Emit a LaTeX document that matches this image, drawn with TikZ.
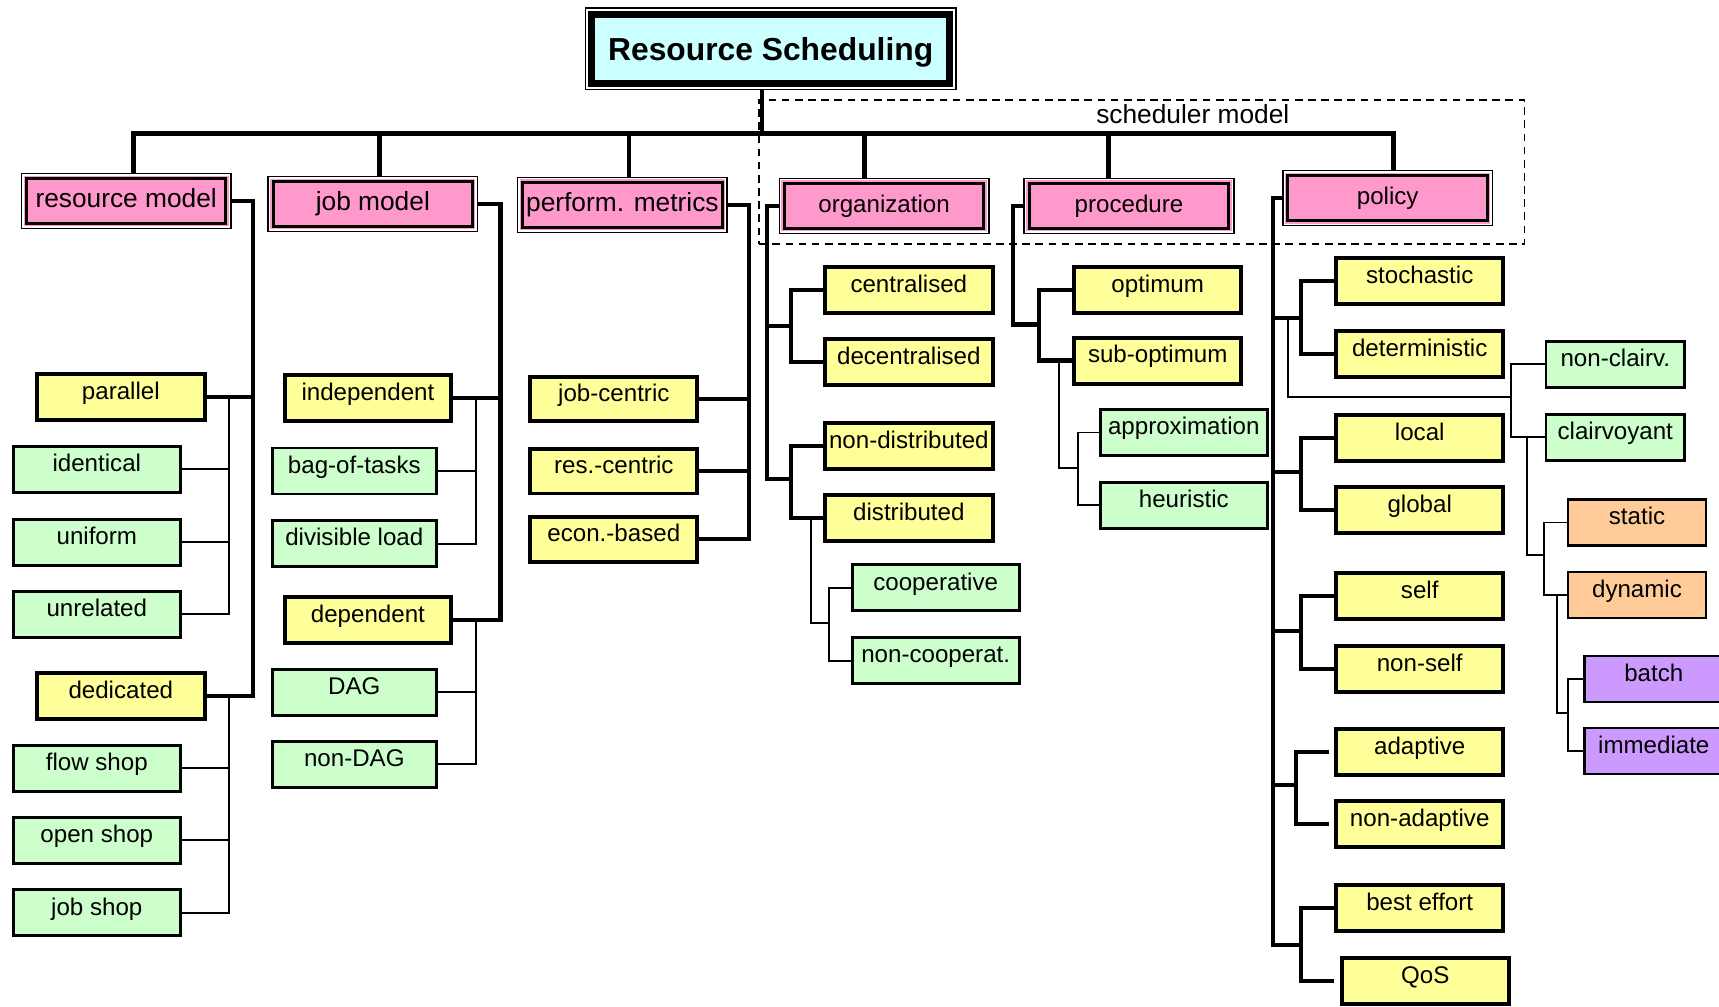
\documentclass[tikz,border=0pt]{standalone}
\usepackage{fontspec}
\setmainfont{Liberation Sans}
\newcommand\fsz[1]{\fontsize{#1pt}{#1pt}\selectfont}
\definecolor{boxpink}{HTML}{FF99CC}
\definecolor{boxyellow}{HTML}{FFFF99}
\definecolor{boxgreen}{HTML}{CCFFCC}
\definecolor{boxorange}{HTML}{FFCC99}
\definecolor{boxpurple}{HTML}{CC99FF}
\definecolor{boxcyan}{HTML}{CCFFFF}
\tikzset{
  box/.style={rectangle, draw=black, inner sep=0pt, minimum width=152.4pt, minimum height=42pt,
    text=black, font=\fsz{22}, text height=12pt, text depth=7.6pt},
  ybox/.style={box, fill=boxyellow, line width=3.6pt, outer sep=1.8pt},
  gbox/.style={box, fill=boxgreen, line width=2.6pt, outer sep=1.3pt},
  obox/.style={box, fill=boxorange, line width=2pt, outer sep=1pt, minimum width=126.4pt},
  vbox/.style={box, fill=boxpurple, line width=2pt, outer sep=1pt, minimum width=126.4pt},
  hbox/.style={rectangle, draw=black, fill=boxpink, inner sep=0pt, line width=2.7pt,
    minimum width=182pt, minimum height=41pt, outer sep=5.25pt,
    text height=14pt, text depth=2.6pt, font=\fsz{22},
    preaction={draw=black, line width=10.5pt},
    preaction={draw=white, line width=7.9pt},
    preaction={draw=boxpink, line width=5.2pt}},
  rootbox/.style={rectangle, draw=black, fill=boxcyan, inner sep=0pt, line width=6.4pt,
    minimum width=326.4pt, minimum height=63.1pt, outer sep=6.3pt,
    font=\fsz{29}\bfseries, text height=20.8pt, text depth=0pt,
    preaction={draw=black, line width=12.6pt},
    preaction={draw=white, line width=10.6pt}},
  busline/.style={line width=4.6pt},
  drop/.style={line width=4pt},
  stem/.style={line width=3.5pt},
  thickb/.style={line width=3.8pt},
  thinb/.style={line width=1.8pt},
}
\begin{document}
\begin{tikzpicture}[x=1pt,y=-1pt]
\clip (0,0) rectangle (1568,918);
\fill[white] (0,0) rectangle (1568,918);

% scheduler model frame
\node[draw=black, dashed, dash pattern=on 7pt off 5pt, line width=1.5pt, inner sep=0pt,
  minimum width=698pt, minimum height=131.6pt] (schedframe) at (1041.5,157) {};
\node[anchor=base, font=\fsz{24}, inner sep=0pt] (schedlabel) at (1088,113) {scheduler model};

% root and first level
\node[rootbox] (root) at (703,44.65) {Resource Scheduling};
\node[hbox, font=\fsz{24}] (rm) at (115.1,183.2) {resource model};
\node[hbox, font=\fsz{24}] (jm) at (340.1,186.2) {job model};
\node[hbox, font=\fsz{24}] (pm) at (567.7,186.8) {perform. metrics};
\node[hbox] (org) at (806.4,187.7) {organization};
\node[hbox] (proc) at (1029.8,187.7) {procedure};
\node[hbox] (pol) at (1265.8,180.8) {policy};

% resource model
\node[ybox, minimum width=153pt] (par) at (110.2,361.8) {parallel};
\node[gbox] (ide) at (88.3,428.2) {identical};
\node[gbox] (uni) at (88.3,494.5) {uniform};
\node[gbox] (unr) at (88.3,560.4) {unrelated};
\node[ybox, minimum width=153pt] (ded) at (110.2,634.5) {dedicated};
\node[gbox] (flo) at (88.3,700.7) {flow shop};
\node[gbox] (ope) at (88.3,766.5) {open shop};
\node[gbox] (jsh) at (88.3,832.6) {job shop};

% job model
\node[ybox, minimum width=152pt] (ind) at (335.6,363.3) {independent};
\node[gbox, minimum width=149.4pt] (bag) at (323.2,429.6) {bag-of-tasks};
\node[gbox, minimum width=149.4pt] (div) at (323.2,495.8) {divisible load};
\node[ybox, minimum width=152pt] (dep) at (335.6,565.5) {dependent};
\node[gbox, minimum width=149.4pt] (dag) at (323.2,631.6) {DAG};
\node[gbox, minimum width=149.4pt] (ndag) at (323.2,697.3) {non-DAG};

% performance metrics
\node[ybox, minimum height=40.5pt] (jc) at (559.9,364) {job-centric};
\node[ybox, minimum height=40.5pt] (rc) at (559.9,429.9) {res.-centric};
\node[ybox, minimum height=40.5pt] (eco) at (559.9,492) {econ.-based};

% organization
\node[ybox, minimum width=152.8pt] (cen) at (829,264.5) {centralised};
\node[ybox, minimum width=152.8pt] (dec) at (829,330.5) {decentralised};
\node[ybox, minimum width=152.8pt] (ndi) at (829,406.7) {non-distributed};
\node[ybox, minimum width=152.8pt] (dis) at (829,472.8) {distributed};
\node[gbox] (coo) at (853.5,536.2) {cooperative};
\node[gbox] (nco) at (853.5,602.5) {non-cooperat.};

% procedure
\node[ybox] (opt) at (1056,264.5) {optimum};
\node[ybox] (sub) at (1056,328.9) {sub-optimum};
\node[gbox] (app) at (1079.8,394.5) {approximation};
\node[gbox] (heu) at (1079.8,461) {heuristic};

% policy
\node[ybox] (sto) at (1295,256.6) {stochastic};
\node[ybox] (det) at (1295,322.9) {deterministic};
\node[ybox] (loc) at (1295,399.5) {local};
\node[ybox] (glo) at (1295,465.5) {global};
\node[ybox] (slf) at (1295,543.9) {self};
\node[ybox] (nsf) at (1295,609.9) {non-self};
\node[ybox] (ada) at (1295,685.9) {adaptive};
\node[ybox] (nad) at (1295,751.8) {non-adaptive};
\node[ybox] (bef) at (1295,828.5) {best effort};
\node[ybox] (qos) at (1300,894.9) {QoS};
\node[gbox, minimum width=126.4pt] (ncl) at (1473.4,332.2) {non-clairv.};
\node[gbox, minimum width=126.4pt] (cla) at (1473.4,399) {clairvoyant};
\node[obox] (sta) at (1493.2,476.6) {static};
\node[obox] (dyn) at (1493.2,542.7) {dynamic};
\node[vbox] (bat) at (1508.5,619) {batch};
\node[vbox] (imm) at (1508.5,685.3) {immediate};

% bus from the root to the six categories
\coordinate (bT) at (695,122);
\coordinate (bL) at (121.7,122);
\coordinate (bR) at (1271.5,122);
\coordinate (bJ) at (346.2,122);
\coordinate (bP) at (573.6,122);
\coordinate (bO) at (788.4,122);
\coordinate (bC) at (1011,122);
\draw[stem] (bT |- root.south) -- (bT);
\draw[busline] (bL |- rm.north) -- (bL) -- (bR) -- (bR |- pol.north);
\draw[drop] (bJ) -- (bJ |- jm.north);
\draw[drop] (bP) -- (bP |- pm.north);
\draw[drop] (bO) -- (bO |- org.north);
\draw[drop] (bC) -- (bC |- proc.north);

% resource model branches
\coordinate (rV) at (231,0);
\coordinate (rv) at (209.2,0);
\draw[thickb] (rm.east) -| (rV |- ded.east) -- (ded.east);
\draw[thickb] (par.east) -- (par.east -| rV);
\draw[thinb] (par.east -| rv) -- (rv |- unr.east) -- (unr.east);
\draw[thinb] (ide.east) -- (ide.east -| rv);
\draw[thinb] (uni.east) -- (uni.east -| rv);
\draw[thinb] (ded.east -| rv) -- (rv |- jsh.east) -- (jsh.east);
\draw[thinb] (flo.east) -- (flo.east -| rv);
\draw[thinb] (ope.east) -- (ope.east -| rv);

% job model branches
\coordinate (jV) at (456.5,0);
\coordinate (jv) at (434.1,0);
\draw[thickb] (jm.east) -| (jV |- dep.east) -- (dep.east);
\draw[thickb] (ind.east) -- (ind.east -| jV);
\draw[thinb] (ind.east -| jv) -- (jv |- div.east) -- (div.east);
\draw[thinb] (bag.east) -- (bag.east -| jv);
\draw[thinb] (dep.east -| jv) -- (jv |- ndag.east) -- (ndag.east);
\draw[thinb] (dag.east) -- (dag.east -| jv);

% performance metrics branches
\coordinate (pV) at (683,0);
\draw[thickb] (pm.east) -| (pV |- eco.east) -- (eco.east);
\draw[thickb] (jc.east) -- (jc.east -| pV);
\draw[thickb] (rc.east) -- (rc.east -| pV);

% organization branches
\coordinate (o1) at (699.5,297.3);
\coordinate (o2) at (699.5,437);
\coordinate (oB) at (721.4,0);
\draw[thickb] (org.west) -| (o2) -- (o2 -| oB);
\draw[thickb] (o1) -- (o1 -| oB);
\draw[thickb] (cen.west) -| (oB |- dec.west) -- (dec.west);
\draw[thickb] (ndi.west) -| (oB |- dis.west) -- (dis.west);
\coordinate (d1) at (739.5,568.6);
\coordinate (dB) at (756.4,0);
\draw[thinb] (d1 |- dis.west) -- (d1) -- (d1 -| dB);
\draw[thinb] (coo.west) -| (dB |- nco.west) -- (nco.west);

% procedure branches
\coordinate (p1) at (924,296);
\coordinate (prB) at (948,0);
\draw[thickb] (proc.west) -| (p1) -- (p1 -| prB);
\draw[thickb] (opt.west) -| (prB |- sub.west) -- (sub.west);
\coordinate (s1) at (966,427.2);
\coordinate (sB) at (983.3,0);
\draw[thinb] (s1 |- sub.west) -- (s1) -- (s1 -| sB);
\draw[thinb] (app.west) -| (sB |- heu.west) -- (heu.west);

% policy branches
\coordinate (q1) at (1161.5,290.4);
\coordinate (q2) at (1161.5,430.9);
\coordinate (q3) at (1161.5,575.4);
\coordinate (q4) at (1161.5,716);
\coordinate (q5) at (1161.5,862);
\coordinate (plB) at (1187,0);
\coordinate (aB) at (1182,0);
\draw[thickb] (pol.west) -| (q5) -- (q5 -| plB);
\draw[thickb] (q1) -- (q1 -| plB);
\draw[thickb] (q2) -- (q2 -| plB);
\draw[thickb] (q3) -- (q3 -| plB);
\draw[thickb] (q4) -- (q4 -| aB);
\draw[thickb] (sto.west) -| (plB |- det.west) -- (det.west);
\draw[thickb] (loc.west) -| (plB |- glo.west) -- (glo.west);
\draw[thickb] (slf.west) -| (plB |- nsf.west) -- (nsf.west);
\draw[thickb] ([xshift=-4.4pt]ada.west) -| (aB |- nad.west) -- ([xshift=-4.4pt]nad.west);
\draw[thickb] (bef.west) -| (plB |- qos.west) -- ([xshift=-5pt]qos.west);

% clairvoyance, static/dynamic and batch/immediate
\coordinate (t1) at (1174.5,362.4);
\coordinate (cB) at (1378.5,0);
\draw[thinb] (t1 |- q1) -- (t1) -- (t1 -| cB);
\draw[thinb] (ncl.west) -| (cB |- cla.west) -- (cla.west);
\coordinate (c1) at (1393,506.2);
\coordinate (stB) at (1408,0);
\draw[thinb] (c1 |- cla.west) -- (c1) -- (c1 -| stB);
\draw[thinb] (sta.west) -| (stB |- dyn.west) -- (dyn.west);
\coordinate (y1) at (1420,650.7);
\coordinate (bB) at (1430.6,0);
\draw[thinb] (y1 |- dyn.west) -- (y1) -- (y1 -| bB);
\draw[thinb] (bat.west) -| (bB |- imm.west) -- (imm.west);
\end{tikzpicture}
\end{document}
